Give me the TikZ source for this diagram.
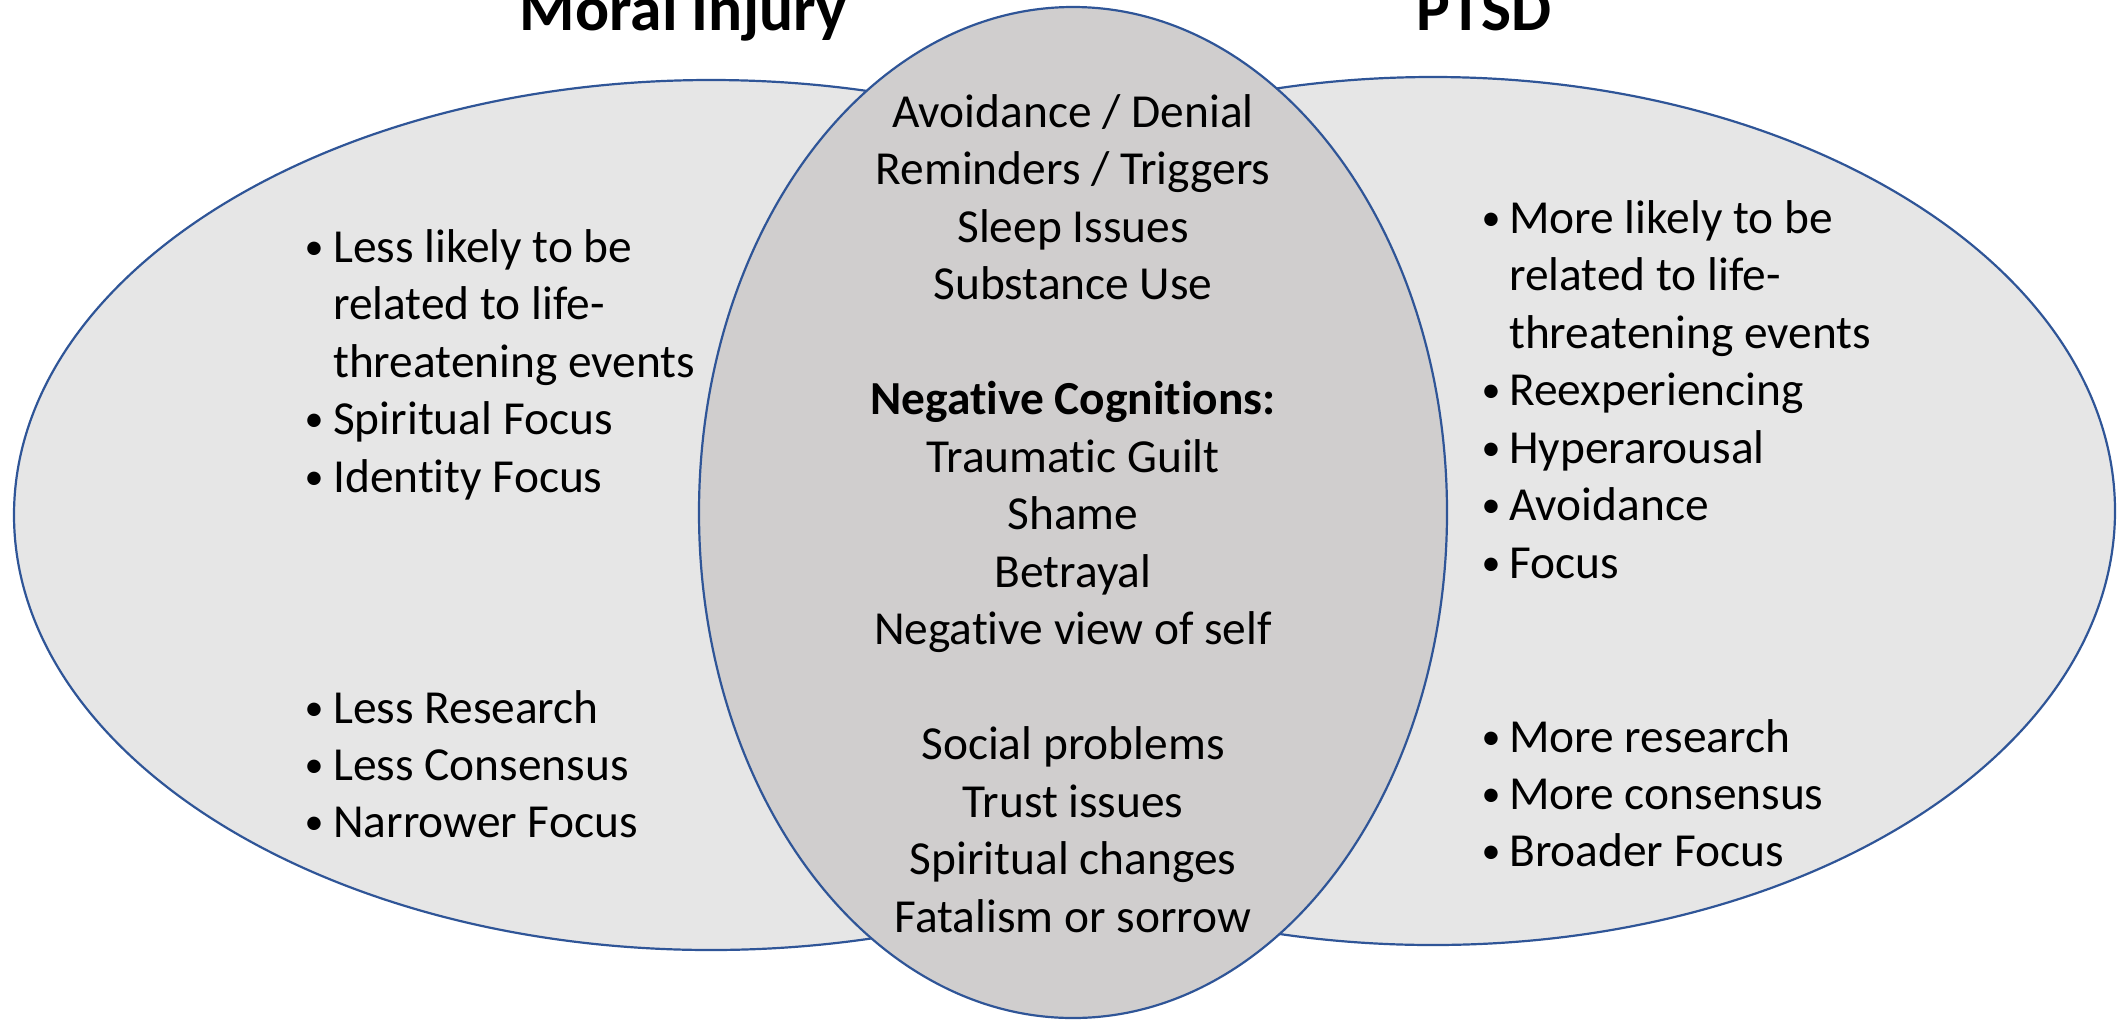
\documentclass[tikz,border=0pt]{standalone}
\usepackage{fontspec}
\setmainfont[Ligatures={NoCommon}]{Carlito}
\definecolor{vennline}{HTML}{2F5597}
\definecolor{sidefill}{HTML}{E6E6E6}
\definecolor{midfill}{HTML}{D0CECE}
\tikzset{
  venn/.style={draw=vennline, line width=2.2pt},
  body/.style={font=\fontsize{47.4}{57.5}\selectfont, inner sep=0pt, text=black},
  mid/.style={body, anchor=base},
  item/.style={body, anchor=base west},
  bul/.style={font=\fontsize{38}{40}\selectfont, inner sep=0pt, text=black, anchor=base, yshift=3pt},
  ttl/.style={font=\fontsize{63.5}{70}\selectfont\bfseries, inner sep=0pt, anchor=base}
}
\begin{document}
\begin{tikzpicture}[x=1pt,y=-1pt]
\useasboundingbox (0,0) rectangle (2117,1021);
\begin{scope}
\clip (0,0) rectangle (2117,1021);
% ellipses
\draw[venn, fill=sidefill] (711,515) ellipse [x radius=697, y radius=435];
\draw[venn, fill=sidefill] (1433,511) ellipse [x radius=682, y radius=434];
\draw[venn, fill=midfill] (1073,512.5) ellipse [x radius=374, y radius=505.5];
% titles
\node[ttl] (tmi) at (683,30) {Moral Injury};
\node[ttl] (tptsd) at (1484,30) {PTSD};
\end{scope}
% centre text
\node[mid] (c1) at (1073,127) {Avoidance / Denial};
\node[mid] (c2) at (1073,184.5) {Reminders / Triggers};
\node[mid] (c3) at (1073,242) {Sleep Issues};
\node[mid] (c4) at (1073,299.5) {Substance Use};
\node[mid, font=\fontsize{47.4}{57.5}\selectfont\bfseries] (c5) at (1073,414.5) {Negative Cognitions:};
\node[mid] (c6) at (1073,472) {Traumatic Guilt};
\node[mid] (c7) at (1073,529.5) {Shame};
\node[mid] (c8) at (1073,587) {Betrayal};
\node[mid] (c9) at (1073,644.5) {Negative view of self};
\node[mid] (c10) at (1073,759.5) {Social problems};
\node[mid] (c11) at (1073,817) {Trust issues};
\node[mid] (c12) at (1073,874.5) {Spiritual changes};
\node[mid] (c13) at (1073,932) {Fatalism or sorrow};
% left upper
\node[bul] (lb1) at (314,262) {•};
\node[item] (l1) at (333,262) {Less likely to be};
\node[item] (l2) at (333,319.5) {related to life-};
\node[item] (l3) at (333,377) {threatening events};
\node[bul] (lb4) at (314,434.5) {•};
\node[item] (l4) at (333,434.5) {Spiritual Focus};
\node[bul] (lb5) at (314,492) {•};
\node[item] (l5) at (333,492) {Identity Focus};
% left lower
\node[bul] (lb6) at (314,723) {•};
\node[item] (l6) at (333,723) {Less Research};
\node[bul] (lb7) at (314,780) {•};
\node[item] (l7) at (333,780) {Less Consensus};
\node[bul] (lb8) at (314,837) {•};
\node[item] (l8) at (333,837) {Narrower Focus};
% right upper
\node[bul] (rb1) at (1491,233) {•};
\node[item] (r1) at (1509,233) {More likely to be};
\node[item] (r2) at (1509,290.5) {related to life-};
\node[item] (r3) at (1509,348) {threatening events};
\node[bul] (rb4) at (1491,405.5) {•};
\node[item] (r4) at (1509,405.5) {Reexperiencing};
\node[bul] (rb5) at (1491,463) {•};
\node[item] (r5) at (1509,463) {Hyperarousal};
\node[bul] (rb6) at (1491,520.5) {•};
\node[item] (r6) at (1509,520.5) {Avoidance};
\node[bul] (rb7) at (1491,578) {•};
\node[item] (r7) at (1509,578) {Focus};
% right lower
\node[bul] (rb8) at (1491,752) {•};
\node[item] (r8) at (1509,752) {More research};
\node[bul] (rb9) at (1491,809) {•};
\node[item] (r9) at (1509,809) {More consensus};
\node[bul] (rb10) at (1491,866) {•};
\node[item] (r10) at (1509,866) {Broader Focus};
\end{tikzpicture}
\end{document}
